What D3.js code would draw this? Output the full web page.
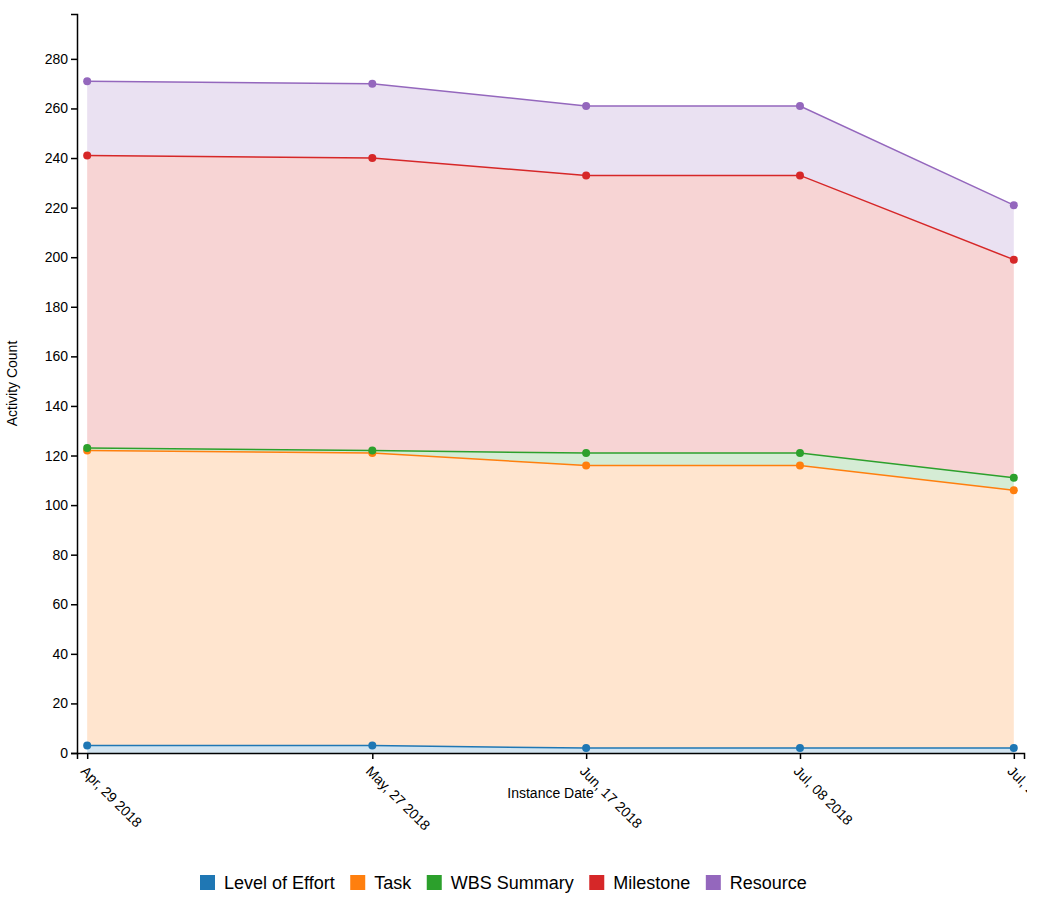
<!DOCTYPE html>
<html>
<head>
<meta charset="utf-8">
<script src="https://cdn.jsdelivr.net/npm/d3@7"></script>
<style>
  body { margin: 0; background: #fff; }
  svg { display: block; font-family: Arial, "Liberation Sans", sans-serif; }
</style>
</head>
<body>
<svg id="chart" width="1027" height="910"></svg>
<script>
// ---- data ----
const dates = ["2018-04-29", "2018-05-27", "2018-06-17", "2018-07-08", "2018-07-29"];
const seriesNames = ["Level of Effort", "Task", "WBS Summary", "Milestone", "Resource"];
const levelOfEffort = [3, 3, 2, 2, 2];
const task = [119, 118, 114, 114, 104];
const wbsSummary = [1, 1, 5, 5, 5];
const milestone = [118, 118, 112, 112, 88];
const resource = [30, 30, 28, 28, 22];
const colors = ["#1f77b4", "#ff7f0e", "#2ca02c", "#d62728", "#9467bd"];
const yTicks = [0, 20, 40, 60, 80, 100, 120, 140, 160, 180, 200, 220, 240, 260, 280];
const xTitle = "Instance Date";
const yTitle = "Activity Count";

// ---- build table ----
const parse = d3.timeParse("%Y-%m-%d");
const valuesBySeries = [levelOfEffort, task, wbsSummary, milestone, resource];
const table = dates.map((d, i) => {
  const row = { date: parse(d) };
  seriesNames.forEach((k, j) => row[k] = valuesBySeries[j][i]);
  return row;
});
const stacked = d3.stack().keys(seriesNames)(table);

const margin = { left: 77, top: 14 };
const plotW = 947, plotH = 739;
const svg = d3.select("#chart");
const g = svg.append("g").attr("transform", `translate(${margin.left},${margin.top})`);

const x = d3.scaleTime()
  .domain([d3.timeDay.offset(table[0].date, -1), d3.timeDay.offset(table[table.length - 1].date, 1)])
  .range([0, plotW]);
const yMax = d3.max(stacked[stacked.length - 1], d => d[1]) * 1.1;
const y = d3.scaleLinear().domain([0, yMax]).range([plotH, 0]);

const area = d3.area().x(d => x(d.data.date)).y0(d => y(d[0])).y1(d => y(d[1]));
const line = d3.line().x(d => x(d.data.date)).y(d => y(d[1]));

g.selectAll("path.area").data(stacked).join("path")
  .attr("class", "area")
  .attr("d", area)
  .attr("fill", (d, i) => colors[i])
  .attr("fill-opacity", 0.2);

g.selectAll("path.line").data(stacked).join("path")
  .attr("class", "line")
  .attr("d", line)
  .attr("fill", "none")
  .attr("stroke", (d, i) => colors[i])
  .attr("stroke-width", 1.5);

stacked.forEach((s, i) => {
  g.selectAll(null).data(s).join("circle")
    .attr("cx", d => x(d.data.date))
    .attr("cy", d => y(d[1]))
    .attr("r", 4)
    .attr("fill", colors[i]);
});

// axes
const fmt = d3.timeFormat("%b, %d %Y");
const xAxis = g.append("g").attr("transform", `translate(0,${plotH})`)
  .call(d3.axisBottom(x).tickValues(table.map(d => d.date)).tickFormat(fmt));
xAxis.selectAll("text")
  .attr("x", 8).attr("y", 9).attr("dy", "0.71em")
  .attr("transform", "rotate(45)")
  .attr("text-anchor", "start");

const yAxis = g.append("g").call(d3.axisLeft(y).tickValues(yTicks));

[xAxis, yAxis].forEach(a => {
  a.selectAll("text").attr("font-size", 14).attr("fill", "#000").attr("font-family", "Arial, 'Liberation Sans', sans-serif");
  a.select(".domain").attr("stroke", "#000").attr("stroke-width", 1.5);
  a.selectAll(".tick line").attr("stroke", "#000").attr("stroke-width", 1.5);
});

g.append("text")
  .attr("x", plotW / 2).attr("y", plotH + 45)
  .attr("text-anchor", "middle").attr("font-size", 14)
  .text(xTitle);

g.append("text")
  .attr("transform", `translate(${-60},${plotH / 2}) rotate(-90)`)
  .attr("text-anchor", "middle").attr("font-size", 14)
  .text(yTitle);

// legend
const legend = svg.append("g").attr("transform", "translate(200,875)");
let lx = 0;
seriesNames.forEach((name, i) => {
  const item = legend.append("g").attr("transform", `translate(${lx},0)`);
  item.append("rect").attr("width", 15).attr("height", 15).attr("fill", colors[i]);
  const t = item.append("text").attr("x", 24).attr("y", 14).attr("font-size", 18).text(name);
  lx += 24 + t.node().getComputedTextLength() + 15.5;
});
</script>
</body>
</html>
